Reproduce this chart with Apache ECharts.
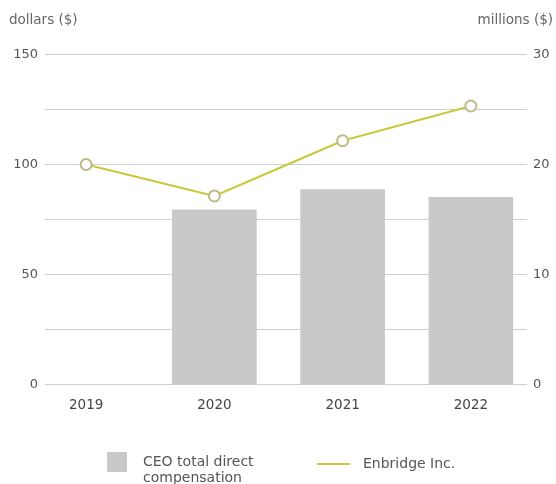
<!DOCTYPE html>
<html>
<head>
<meta charset="utf-8">
<script src="https://cdn.jsdelivr.net/npm/echarts@6/dist/echarts.min.js"></script>
<style>html,body{margin:0;padding:0;background:#fff;}#c{width:556px;height:484px;}</style>
</head>
<body>
<div id="c"></div>
<script>
var categories = ['2019', '2020', '2021', '2022'];
var ceoCompensation = [null, 15.9, 17.75, 17.05];
var enbridge = [100, 85.7, 110.8, 126.6];
var leftTicks = [0, 50, 100, 150];
var rightTicks = [0, 10, 20, 30];

var FONT = 'DejaVu Sans';
var chart = echarts.init(document.getElementById('c'));
var plotTop = 54.5, plotBottom = 99.5;
chart.setOption({
  animation: false,
  backgroundColor: '#fff',
  textStyle: { fontFamily: FONT },
  title: [
    { text: 'dollars ($)', left: 9, top: 13, padding: 0,
      textStyle: { fontFamily: FONT, fontSize: 13.5, fontWeight: 'normal', color: '#666' } },
    { text: 'millions ($)', right: 3, top: 13, padding: 0,
      textStyle: { fontFamily: FONT, fontSize: 13.5, fontWeight: 'normal', color: '#666' } }
  ],
  grid: [
    { left: 45, right: 29, top: plotTop, bottom: plotBottom },
    { left: 22, right: 21, top: plotTop, bottom: plotBottom }
  ],
  xAxis: [
    { type: 'value', gridIndex: 0, show: false, min: 0, max: 1 },
    { type: 'category', gridIndex: 1, data: categories,
      axisLine: { show: false }, axisTick: { show: false },
      axisLabel: { fontFamily: FONT, fontSize: 13.5, color: '#444', margin: 14 } }
  ],
  yAxis: [
    { type: 'value', gridIndex: 0, min: 0, max: 150, interval: 25, position: 'left',
      axisLine: { show: false }, axisTick: { show: false },
      splitLine: { lineStyle: { color: '#cfcfcf', width: 1 } },
      axisLabel: { fontFamily: FONT, fontSize: 13, color: '#555', margin: 7,
        formatter: function (v) { return leftTicks.indexOf(v) >= 0 ? String(v) : ''; } } },
    { type: 'value', gridIndex: 0, min: 0, max: 30, interval: 5, position: 'right',
      axisLine: { show: false }, axisTick: { show: false }, splitLine: { show: false },
      axisLabel: { fontFamily: FONT, fontSize: 13, color: '#555', margin: 6,
        formatter: function (v) { return rightTicks.indexOf(v) >= 0 ? String(v) : ''; } } },
    { type: 'value', gridIndex: 1, min: 0, max: 150, show: false, splitLine: { show: false } },
    { type: 'value', gridIndex: 1, min: 0, max: 30, show: false, splitLine: { show: false } }
  ],
  legend: [
    { data: [{ name: 'CEO total direct\ncompensation', icon: 'rect' }],
      left: 107, top: 438, padding: 0, itemWidth: 20, itemHeight: 20, itemGap: 0,
      formatter: function (name) { return ' \n' + name; },
      textStyle: { fontFamily: FONT, fontSize: 14, color: '#555', lineHeight: 16, padding: [0, 0, 0, 11] } },
    { data: [{ name: 'Enbridge Inc.', icon: 'rect', itemStyle: { color: '#cbc83c', borderWidth: 0 } }],
      left: 317, top: 457, padding: 0, itemWidth: 33, itemHeight: 2,
      itemStyle: { color: '#cbc83c', borderWidth: 0 },
      textStyle: { fontFamily: FONT, fontSize: 14, color: '#555', padding: [0, 0, 0, 8] } }
  ],
  series: [
    { name: 'CEO total direct\ncompensation', type: 'bar', xAxisIndex: 1, yAxisIndex: 3,
      data: ceoCompensation, barWidth: '66%',
      itemStyle: { color: '#c8c9cb' } },
    { name: 'Enbridge Inc.', type: 'line', xAxisIndex: 1, yAxisIndex: 2,
      data: enbridge, symbol: 'circle', symbolSize: 11,
      lineStyle: { color: '#cbc83c', width: 2 },
      itemStyle: { color: '#ffffff', borderColor: '#bdb98a', borderWidth: 2 }, z: 5 }
  ]
});
</script>
</body>
</html>
